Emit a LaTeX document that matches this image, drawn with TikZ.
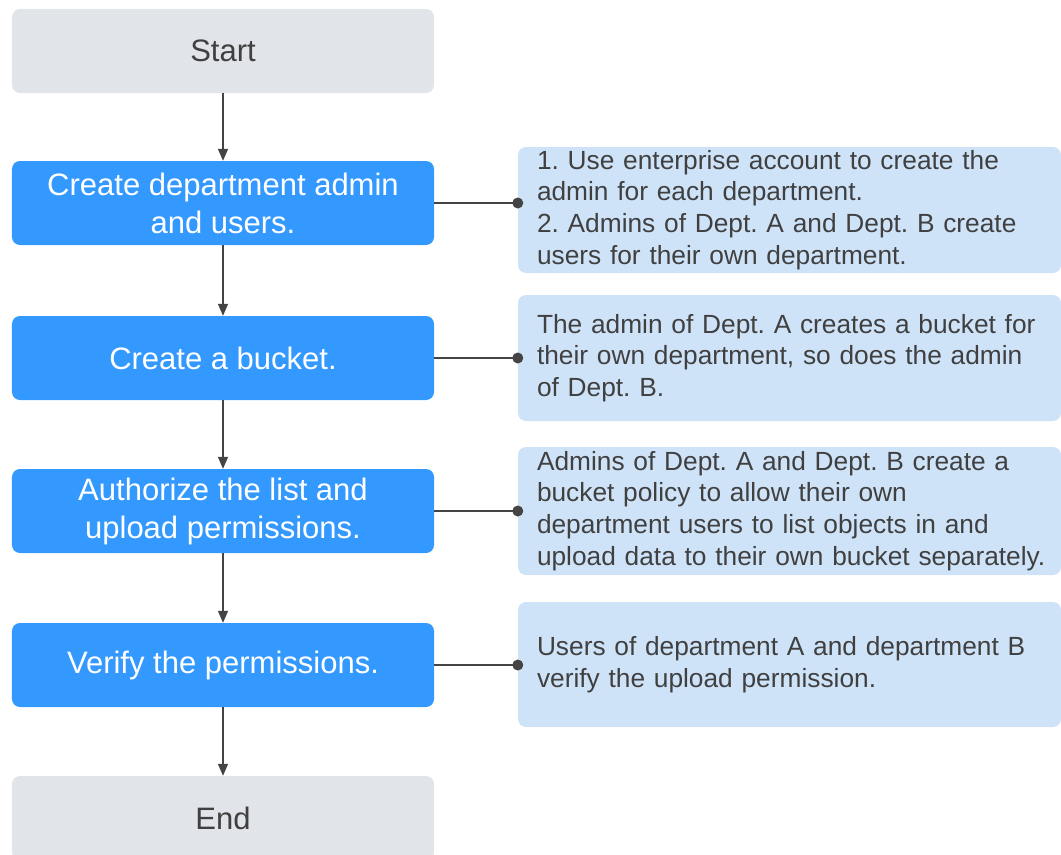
\documentclass[tikz,border=0pt]{standalone}
\usepackage{fontspec}
\setmainfont{Liberation Sans}
\usetikzlibrary{arrows.meta}
\definecolor{graybox}{RGB}{225,228,232}
\definecolor{blueA}{RGB}{51,153,255}
\definecolor{lightblue}{RGB}{207,227,248}
\definecolor{textgray}{RGB}{64,64,64}
\definecolor{linegray}{RGB}{68,68,68}
\begin{document}
\frenchspacing
\begin{tikzpicture}[x=1bp,y=-1bp,
  stepbox/.style={rounded corners=8bp, minimum width=422bp, minimum height=84bp, inner sep=0pt, align=center, font=\fontsize{31bp}{38bp}\selectfont},
  termbox/.style={stepbox, fill=graybox, text=textgray},
  bluebox/.style={stepbox, fill=blueA, text=white},
  notebox/.style={rounded corners=8bp, fill=lightblue, text=textgray, text width=505bp, inner xsep=19bp, inner ysep=0pt, align=left, font=\fontsize{26.3bp}{31.7bp}\selectfont},
  flow/.style={line width=1.5bp, draw=linegray, -{Triangle[length=12bp,width=10bp]}},
  link/.style={line width=1.3bp, draw=linegray},
  dot/.style={fill=linegray}]
\clip (0,0) rectangle (1061,855);
\node[termbox] (start) at (223,51) {Start};
\node[bluebox] (s1) at (223,203) {Create department admin\\and users.};
\node[bluebox] (s2) at (223,358) {Create a bucket.};
\node[bluebox] (s3) at (223,511) {Authorize the list and\\upload permissions.};
\node[bluebox] (s4) at (223,665) {Verify the permissions.};
\node[termbox] (end) at (223,818) {End};

\node[notebox, minimum height=126bp] (n1) at (789.5,210) {\mbox{1. Use enterprise account to create the}\\\mbox{admin for each department.}\\\mbox{2. Admins of Dept. A and Dept. B create}\\\mbox{users for their own department.}};
\node[notebox, minimum height=126bp] (n2) at (789.5,358) {\mbox{The admin of Dept. A creates a bucket for}\\\mbox{their own department, so does the admin}\\\mbox{of Dept. B.}};
\node[notebox, minimum height=128bp] (n3) at (789.5,511) {\mbox{Admins of Dept. A and Dept. B create a}\\\mbox{bucket policy to allow their own}\\\mbox{department users to list objects in and}\\\mbox{upload data to their own bucket separately.}};
\node[notebox, minimum height=125bp] (n4) at (789.5,664.5) {\mbox{Users of department A and department B}\\\mbox{verify the upload permission.}};

\draw[flow] (start) -- (s1);
\draw[flow] (s1) -- (s2);
\draw[flow] (s2) -- (s3);
\draw[flow] (s3) -- (s4);
\draw[flow] (s4) -- (end);

\draw[link] (s1.east) -- (s1.east -| n1.west);
\fill[dot] (s1.east -| n1.west) circle (5.5);
\draw[link] (s2.east) -- (s2.east -| n2.west);
\fill[dot] (s2.east -| n2.west) circle (5.5);
\draw[link] (s3.east) -- (s3.east -| n3.west);
\fill[dot] (s3.east -| n3.west) circle (5.5);
\draw[link] (s4.east) -- (s4.east -| n4.west);
\fill[dot] (s4.east -| n4.west) circle (5.5);
\end{tikzpicture}
\end{document}
